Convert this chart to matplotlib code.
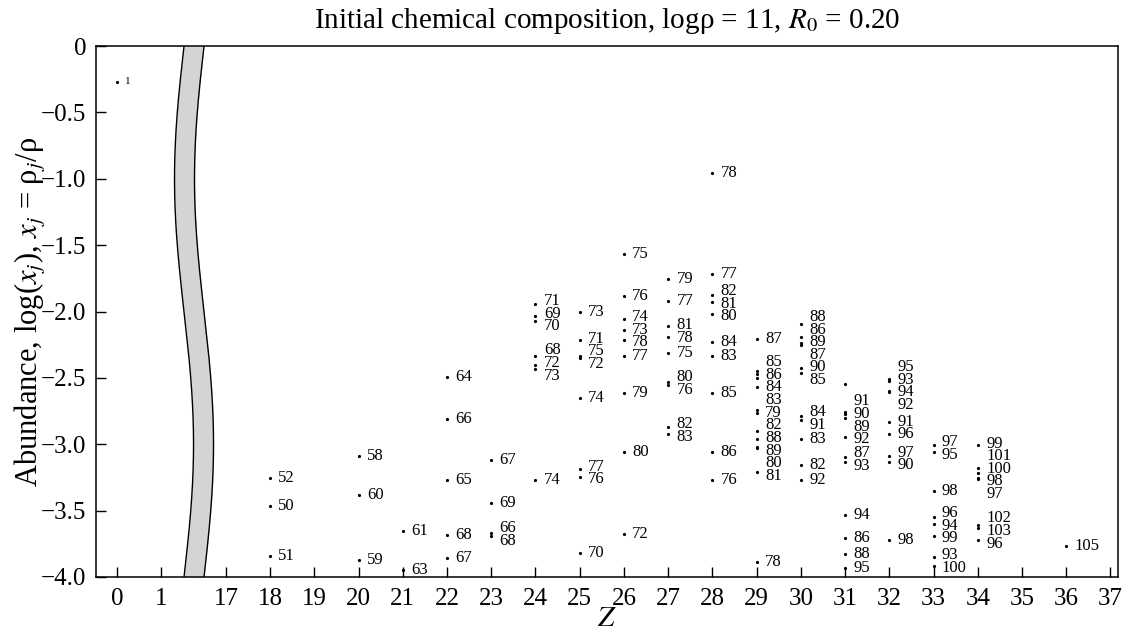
import numpy as np
import matplotlib.pyplot as plt

plt.rcParams['font.family'] = ['Liberation Serif', 'DejaVu Serif']
plt.rcParams['mathtext.fontset'] = 'stix'

# nuclear charge, log abundance and mass number of each nuclide
z = [0,
     18, 18, 18,
     20, 20, 20,
     21, 21,
     22, 22, 22, 22, 22,
     23, 23, 23, 23,
     24, 24, 24, 24, 24, 24, 24,
     25, 25, 25, 25, 25, 25, 25, 25,
     26, 26, 26, 26, 26, 26, 26, 26, 26,
     27, 27, 27, 27, 27, 27, 27, 27, 27,
     28, 28, 28, 28, 28, 28, 28, 28, 28, 28,
     29, 29, 29, 29, 29, 29, 29, 29, 29, 29, 29, 29, 29,
     30, 30, 30, 30, 30, 30, 30, 30, 30, 30, 30,
     31, 31, 31, 31, 31, 31, 31, 31, 31, 31, 31,
     32, 32, 32, 32, 32, 32, 32, 32, 32,
     33, 33, 33, 33, 33, 33, 33, 33,
     34, 34, 34, 34, 34, 34, 34, 34,
     36]
logx = [-0.27,
        -3.255, -3.465, -3.84,
        -3.09, -3.38, -3.87,
        -3.65, -3.95,
        -2.49, -2.81, -3.27, -3.68, -3.86,
        -3.12, -3.44, -3.67, -3.69,
        -1.945, -2.03, -2.075, -2.335, -2.40, -2.43, -3.27,
        -2.00, -2.215, -2.335, -2.35, -2.65, -3.186, -3.25, -3.817,
        -1.567, -1.88, -2.06, -2.14, -2.215, -2.335, -2.615, -3.056, -3.676,
        -1.755, -1.92, -2.11, -2.19, -2.31, -2.53, -2.55, -2.868, -2.925,
        -0.954, -1.717, -1.876, -1.93, -2.02, -2.23, -2.335, -2.615, -3.056, -3.27,
        -2.21, -2.445, -2.47, -2.50, -2.565, -2.74, -2.762, -2.898, -2.963, -3.018, -3.03, -3.207, -3.89,
        -2.097, -2.195, -2.24, -2.25, -2.423, -2.466, -2.79, -2.82, -2.96, -3.156, -3.27,
        -2.545, -2.76, -2.775, -2.80, -2.945, -3.095, -3.135, -3.533, -3.71, -3.827, -3.935,
        -2.505, -2.525, -2.60, -2.61, -2.835, -2.92, -3.09, -3.135, -3.72,
        -3.006, -3.056, -3.35, -3.55, -3.60, -3.69, -3.85, -3.92,
        -3.006, -3.177, -3.219, -3.255, -3.265, -3.61, -3.633, -3.72,
        -3.764]
mass = ['1',
        '52', '50', '51',
        '58', '60', '59',
        '61', '63',
        '64', '66', '65', '68', '67',
        '67', '69', '66', '68',
        '71', '69', '70', '68', '72', '73', '74',
        '73', '71', '75', '72', '74', '77', '76', '70',
        '75', '76', '74', '73', '78', '77', '79', '80', '72',
        '79', '77', '81', '78', '75', '80', '76', '82', '83',
        '78', '77', '82', '81', '80', '84', '83', '85', '86', '76',
        '87', '85', '86', '', '84', '83', '79', '82', '88', '89', '80', '81', '78',
        '88', '86', '89', '87', '90', '85', '84', '91', '83', '82', '92',
        '', '91', '90', '89', '92', '87', '93', '94', '86', '88', '95',
        '95', '93', '94', '92', '91', '96', '97', '90', '98',
        '97', '95', '98', '96', '94', '99', '93', '100',
        '99', '101', '100', '98', '97', '102', '103', '96',
        '105']

tick_z = [0, 1] + list(range(17, 38))
ytick_vals = [0, -0.5, -1.0, -1.5, -2.0, -2.5, -3.0, -3.5, -4.0]
ytick_text = ['0', '\u22120.5', '\u22121.0', '\u22121.5', '\u22122.0',
              '\u22122.5', '\u22123.0', '\u22123.5', '\u22124.0']


def zpos(v):
    # the axis is broken between Z = 1 and Z = 17
    return v if v <= 1 else v - 14.54


def spread(ys, gap=0.095):
    # stack labels of one column so that they do not overlap
    idx = sorted(range(len(ys)), key=lambda i: -ys[i])
    groups = [[i] for i in idx]

    def place(g):
        c = np.mean([ys[i] for i in g])
        return [c + gap * ((len(g) - 1) / 2 - k) for k in range(len(g))]

    merged = True
    while merged:
        merged = False
        for k in range(len(groups) - 1):
            a, b = place(groups[k]), place(groups[k + 1])
            if a[-1] - b[0] < gap - 1e-9:
                groups[k] = groups[k] + groups[k + 1]
                del groups[k + 1]
                merged = True
                break
    out = [0.0] * len(ys)
    for g in groups:
        for i, y in zip(g, place(g)):
            out[i] = y
    return out


fig, ax = plt.subplots(figsize=(11.26, 6.31), dpi=100)
fig.subplots_adjust(left=0.0853, right=0.9929, bottom=0.0856, top=0.927)

xs = [zpos(v) for v in z]
ax.plot(xs, logx, 'o', color='black', ms=2.3, mew=0, zorder=3)

# labels
for col in sorted(set(z)):
    ids = [i for i in range(len(z)) if z[i] == col and mass[i] != '']
    ly = spread([logx[i] for i in ids])
    for i, y in zip(ids, ly):
        ax.annotate(mass[i], (xs[i], y), xytext=(6, 0), textcoords='offset points',
                    va='center', ha='left', fontsize=12 if col > 0 else 8)

# axis break band
yy = np.linspace(0, -4, 300)
cc = 1.74 - 0.215 * np.sin(np.pi * (-yy) / 2)
ax.fill_betweenx(yy, cc - 0.226, cc + 0.226, color='#d3d4d6', lw=0, zorder=2)
ax.plot(cc - 0.226, yy, color='black', lw=1.0, zorder=2)
ax.plot(cc + 0.226, yy, color='black', lw=1.0, zorder=2)

ax.set_xlim(-0.475, 22.63)
ax.set_ylim(-4.0, 0)
ax.set_xticks([zpos(v) for v in tick_z])
ax.set_xticklabels([str(v) for v in tick_z])
ax.set_yticks(ytick_vals)
ax.set_yticklabels(ytick_text)
ax.tick_params(direction='in', length=7, width=1.0, labelsize=18, pad=7,
               top=False, right=False)
ax.tick_params(axis='x', pad=8)
for s in ax.spines.values():
    s.set_linewidth(1.1)

ax.set_xlabel('$Z$', fontsize=21, labelpad=-3)
ax.set_ylabel('Abundance, log($x_j$), $x_j$ = \u03c1$_j$/\u03c1', fontsize=22, labelpad=-5)
ax.set_title('Initial chemical composition, log\u03c1 = 11, $R_0$ = 0.20', fontsize=21, pad=13)

fig.savefig('out.png', dpi=100)
